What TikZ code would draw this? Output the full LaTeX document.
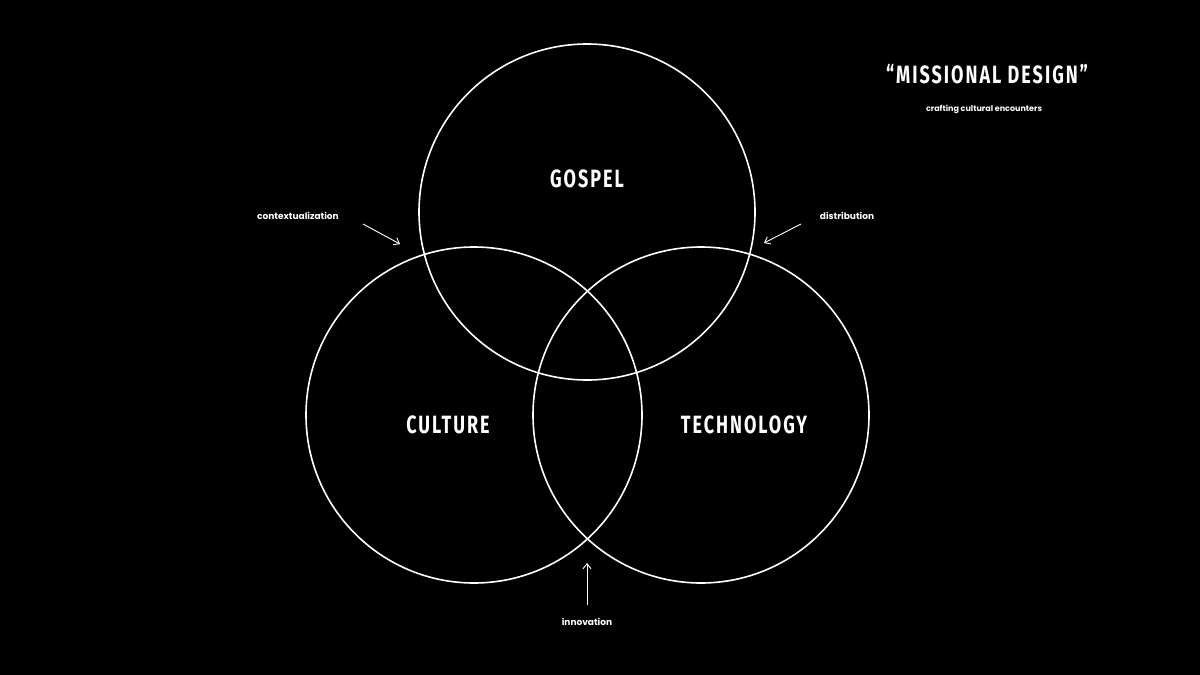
\documentclass[tikz,border=0pt]{standalone}
\usepackage{fontspec}
\setmainfont{Poppins}
\newfontfamily\cond[FakeStretch=0.72,LetterSpace=8]{Fira Sans}
\usetikzlibrary{arrows.meta}
\begin{document}
\begin{tikzpicture}[x=1pt,y=-1pt,
  ring/.style={draw=white,line width=1.6pt},
  big/.style={text=white,font=\cond\bfseries\fontsize{25}{25}\selectfont},
  small/.style={text=white,font=\bfseries\fontsize{9}{9}\selectfont},
  arr/.style={draw=white,line width=0.9pt,-{Straight Barb[length=5pt,width=8pt]}}]
\fill[black] (0,0) rectangle (1200,675);
\useasboundingbox (0,0) rectangle (1200,675);
\draw[ring] (587,212) circle (168);
\draw[ring] (474,415) circle (168);
\draw[ring] (701,415) circle (168);
\node[big] (g) at (587,179) {GOSPEL};
\node[big] (c) at (448,425) {CULTURE};
\node[big] (t) at (744,425) {TECHNOLOGY};
\node[big] (ttl) at (987,74) {“MISSIONAL DESIGN”};
\node[small,font=\bfseries\fontsize{8}{8}\selectfont] (sub) at (984,109) {crafting cultural encounters};
\node[small] (ctx) at (298,216) {contextualization};
\node[small] (dis) at (847,216) {distribution};
\node[small] (inn) at (587,622) {innovation};
\coordinate (a1) at (363,224); \coordinate (a2) at (400,244);
\coordinate (b1) at (801,224); \coordinate (b2) at (764,243);
\coordinate (c1) at (587,605); \coordinate (c2) at (587,563);
\draw[arr] (a1) -- (a2);
\draw[arr] (b1) -- (b2);
\draw[arr] (c1) -- (c2);
\end{tikzpicture}
\end{document}
